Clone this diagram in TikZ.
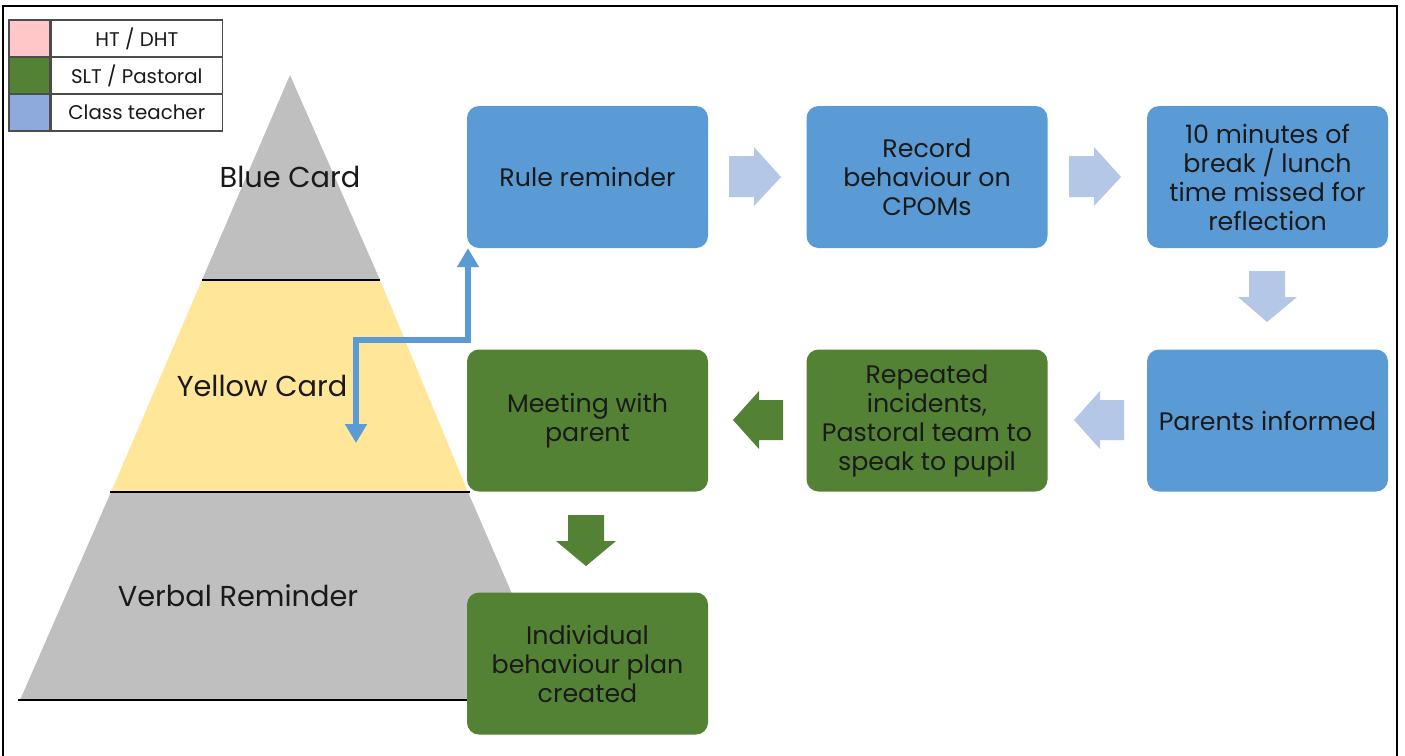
\documentclass[tikz,border=0pt]{standalone}
\usepackage{fontspec}
\setmainfont{Poppins}
\usetikzlibrary{arrows.meta}
\definecolor{boxblue}{HTML}{5B9BD5}
\definecolor{boxgreen}{HTML}{548235}
\definecolor{pyrgray}{HTML}{BFBFBF}
\definecolor{pyryellow}{HTML}{FFE699}
\definecolor{arrlight}{HTML}{B4C7E7}
\definecolor{legpink}{HTML}{FFC7C7}
\definecolor{legblue}{HTML}{8EA9DB}
\definecolor{txt}{HTML}{1A1A1A}
\tikzset{
  stepbox/.style={rounded corners=12pt, minimum width=241pt, minimum height=142pt, align=center, text=txt,
    font=\fontsize{25.3}{29}\selectfont, inner sep=0pt},
  bluebox/.style={stepbox, fill=boxblue},
  greenbox/.style={stepbox, fill=boxgreen},
  pyrlabel/.style={font=\fontsize{28.8}{32}\selectfont, text=txt},
  legcell/.style={draw=black!70, line width=1.3pt, minimum height=37pt, inner sep=0pt, font=\fontsize{19.8}{22}\selectfont, text=txt},
  conn/.style={draw=boxblue, line width=5.5pt, {Triangle[width=21pt,length=19pt]}-{Triangle[width=21pt,length=19pt]}},
  sep/.style={draw=black, line width=2.5pt}
}
\begin{document}
\begin{tikzpicture}[x=1pt,y=-1pt]
\useasboundingbox (0,0) rectangle (1405,755);
\fill[white] (0,0) rectangle (1405,755);
% outer frame
\begin{scope}
\clip (0,0) rectangle (1405,755);
\draw[line width=2pt] (3,770) -- (3,6) -- (1397,6) -- (1397,770);
\end{scope}
% pyramid
\fill[pyrgray] (290,75) -- (380,280) -- (202,280) -- cycle;
\fill[pyryellow] (202,280) -- (380,280) -- (468,492) -- (111,492) -- cycle;
\fill[pyrgray] (111,492) -- (468,492) -- (558,700) -- (20,700) -- cycle;
\draw[sep] (202,280) -- (380,280);
\draw[sep] (110,492) -- (470,492);
\draw[sep] (18,700) -- (470,700);
\node[pyrlabel] (blue) at (290,177) {Blue Card};
\node[pyrlabel] (yellow) at (262,386) {Yellow Card};
\node[pyrlabel] (verbal) at (238,596) {Verbal Reminder};
% legend
\node[legcell, fill=legpink, minimum width=41pt] (l1c) at (29.5,38.5) {};
\node[legcell, fill=boxgreen, minimum width=41pt] (l2c) at (29.5,75.5) {};
\node[legcell, fill=legblue, minimum width=41pt] (l3c) at (29.5,112.5) {};
\node[legcell, fill=white, minimum width=171pt, anchor=west] (l1) at (l1c.east) {HT / DHT};
\node[legcell, fill=white, minimum width=171pt, anchor=west] (l2) at (l2c.east) {SLT / Pastoral};
\node[legcell, fill=white, minimum width=171pt, anchor=west] (l3) at (l3c.east) {Class teacher};
% boxes
\node[bluebox] (rule) at (587.5,177) {Rule reminder};
\node[bluebox] (record) at (927,177) {Record\\behaviour on\\CPOMs};
\node[bluebox] (ten) at (1267.5,177) {10 minutes of\\break / lunch\\time missed for\\reflection};
\node[bluebox] (parents) at (1267.5,420.5) {Parents informed};
\node[greenbox] (repeated) at (927,420.5) {Repeated\\incidents,\\Pastoral team to\\speak to pupil};
\node[greenbox] (meeting) at (587.5,420.5) {Meeting with\\parent};
\node[greenbox] (plan) at (587.5,663.5) {Individual\\behaviour plan\\created};
% block arrows
\fill[arrlight] (729,156) -- (754,156) -- (754,147) -- (781,177) -- (754,206) -- (754,197) -- (729,197) -- cycle;
\fill[arrlight] (1069,156) -- (1094,156) -- (1094,147) -- (1121,177) -- (1094,206) -- (1094,197) -- (1069,197) -- cycle;
\fill[arrlight] (1249,271) -- (1285,271) -- (1285,297) -- (1297,297) -- (1267,322) -- (1238,297) -- (1249,297) -- cycle;
\fill[arrlight] (1124,400) -- (1100,400) -- (1100,391) -- (1074,420) -- (1100,449) -- (1100,440) -- (1124,440) -- cycle;
\fill[boxgreen] (783,400) -- (759,400) -- (759,391) -- (733,420) -- (759,449) -- (759,440) -- (783,440) -- cycle;
\fill[boxgreen] (568,515) -- (604,515) -- (604,541) -- (616,541) -- (586,566) -- (556,541) -- (568,541) -- cycle;
% connector
\coordinate (yc) at (356,443);
\draw[conn] (yc) -- (356,340) -- (468,340) -- (rule.south -| 468,0);
\end{tikzpicture}
\end{document}
